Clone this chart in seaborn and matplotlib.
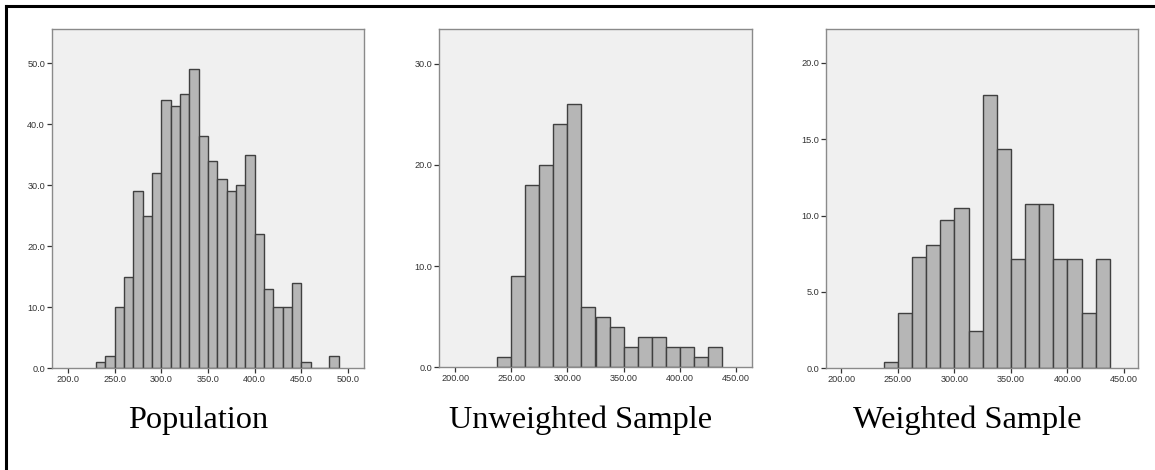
import numpy as np
import pandas as pd
import matplotlib
matplotlib.use("Agg")
import matplotlib.pyplot as plt
import seaborn as sns
from matplotlib.lines import Line2D
from matplotlib.ticker import FormatStrFormatter

# ---------------- data ----------------
pop_bin_starts = [230, 240, 250, 260, 270, 280, 290, 300, 310, 320, 330, 340, 350,
                  360, 370, 380, 390, 400, 410, 420, 430, 440, 450, 460, 470, 480]
pop_counts = [1, 2, 10, 15, 29, 25, 32, 44, 43, 45, 49, 38, 34,
              31, 29, 30, 35, 22, 13, 10, 10, 14, 1, 0, 0, 2]
pop_binwidth = 10

sample_bin_starts = [237.5, 250, 262.5, 275, 287.5, 300, 312.5, 325, 337.5,
                     350, 362.5, 375, 387.5, 400, 412.5, 425]
unweighted_counts = [1, 9, 18, 20, 24, 26, 6, 5, 4, 2, 3, 3, 2, 2, 1, 2]
weighted_counts = [0.42, 3.63, 7.28, 8.08, 9.70, 10.49, 2.45, 17.92, 14.36,
                   7.17, 10.77, 10.77, 7.17, 7.17, 3.63, 7.17]
sample_binwidth = 12.5

titles = ["Population", "Unweighted Sample", "Weighted Sample"]
x_ticks = [[200, 250, 300, 350, 400, 450, 500],
           [200, 250, 300, 350, 400, 450],
           [200, 250, 300, 350, 400, 450]]
y_ticks = [[0, 10, 20, 30, 40, 50],
           [0, 10, 20, 30],
           [0, 5, 10, 15, 20]]
x_fmt = ["%.1f", "%.2f", "%.2f"]
x_lims = [(183, 517), (185.7, 464.3), (186.5, 462.6)]
y_lims = [(0, 55.6), (0, 33.4), (0, 22.2)]

# ---------------- figure ----------------
sns.set_theme(style="white")
plt.rcParams["font.family"] = ["Liberation Sans", "DejaVu Sans"]

W, H = 1155, 470
fig = plt.figure(figsize=(W / 100, H / 100), dpi=100)
fig.patch.set_facecolor("white")

# axes boxes in pixels: (left, top, right, bottom)
boxes = [(52, 29, 364, 368), (439.3, 29.3, 751.7, 367.3), (826, 29.3, 1138.3, 368.3)]
title_x = [198.5, 581, 967]
title_baseline = 428

datasets = [
    (pop_bin_starts, pop_counts, pop_binwidth),
    (sample_bin_starts, unweighted_counts, sample_binwidth),
    (sample_bin_starts, weighted_counts, sample_binwidth),
]

for i, (starts, counts, bw) in enumerate(datasets):
    l, t, r, b = boxes[i]
    ax = fig.add_axes([l / W, 1 - b / H, (r - l) / W, (b - t) / H])
    starts = [float(s) for s in starts]
    df = pd.DataFrame({"x": [s + bw / 2 for s in starts], "w": counts})
    edges = starts + [starts[-1] + bw]
    sns.histplot(data=df, x="x", weights="w", bins=edges, ax=ax,
                 color="#b6b6b6", edgecolor="#404040", linewidth=1.0, alpha=1.0)
    ax.set_facecolor("#f0f0f0")
    ax.set_xlim(*x_lims[i])
    ax.set_ylim(*y_lims[i])
    ax.set_xticks(x_ticks[i])
    ax.set_yticks(y_ticks[i])
    ax.xaxis.set_major_formatter(FormatStrFormatter(x_fmt[i]))
    ax.yaxis.set_major_formatter(FormatStrFormatter("%.1f"))
    ax.set_xlabel("")
    ax.set_ylabel("")
    ax.grid(False)
    for s in ax.spines.values():
        s.set_visible(True)
        s.set_color("#8a8a8a")
        s.set_linewidth(1.0)
    ax.tick_params(axis="both", which="major", direction="out", length=3.5,
                   width=0.9, color="#333333", labelsize=6.6, labelcolor="#333333",
                   pad=1.5, bottom=True, left=True, top=False, right=False)
    fig.text(title_x[i] / W, 1 - title_baseline / H, titles[i],
             family=["Liberation Serif", "DejaVu Serif"], fontsize=23.3,
             ha="center", va="baseline", color="black")

# outer frame (top and left visible)
fig.add_artist(Line2D([5.5 / W, 5.5 / W], [0, 1 - 5.8 / H], transform=fig.transFigure,
                      color="black", linewidth=2.2, solid_capstyle="projecting"))
fig.add_artist(Line2D([5.5 / W, 1], [1 - 5.8 / H, 1 - 5.8 / H], transform=fig.transFigure,
                      color="black", linewidth=2.2, solid_capstyle="projecting"))

fig.savefig("out.png", dpi=100, facecolor="white")
